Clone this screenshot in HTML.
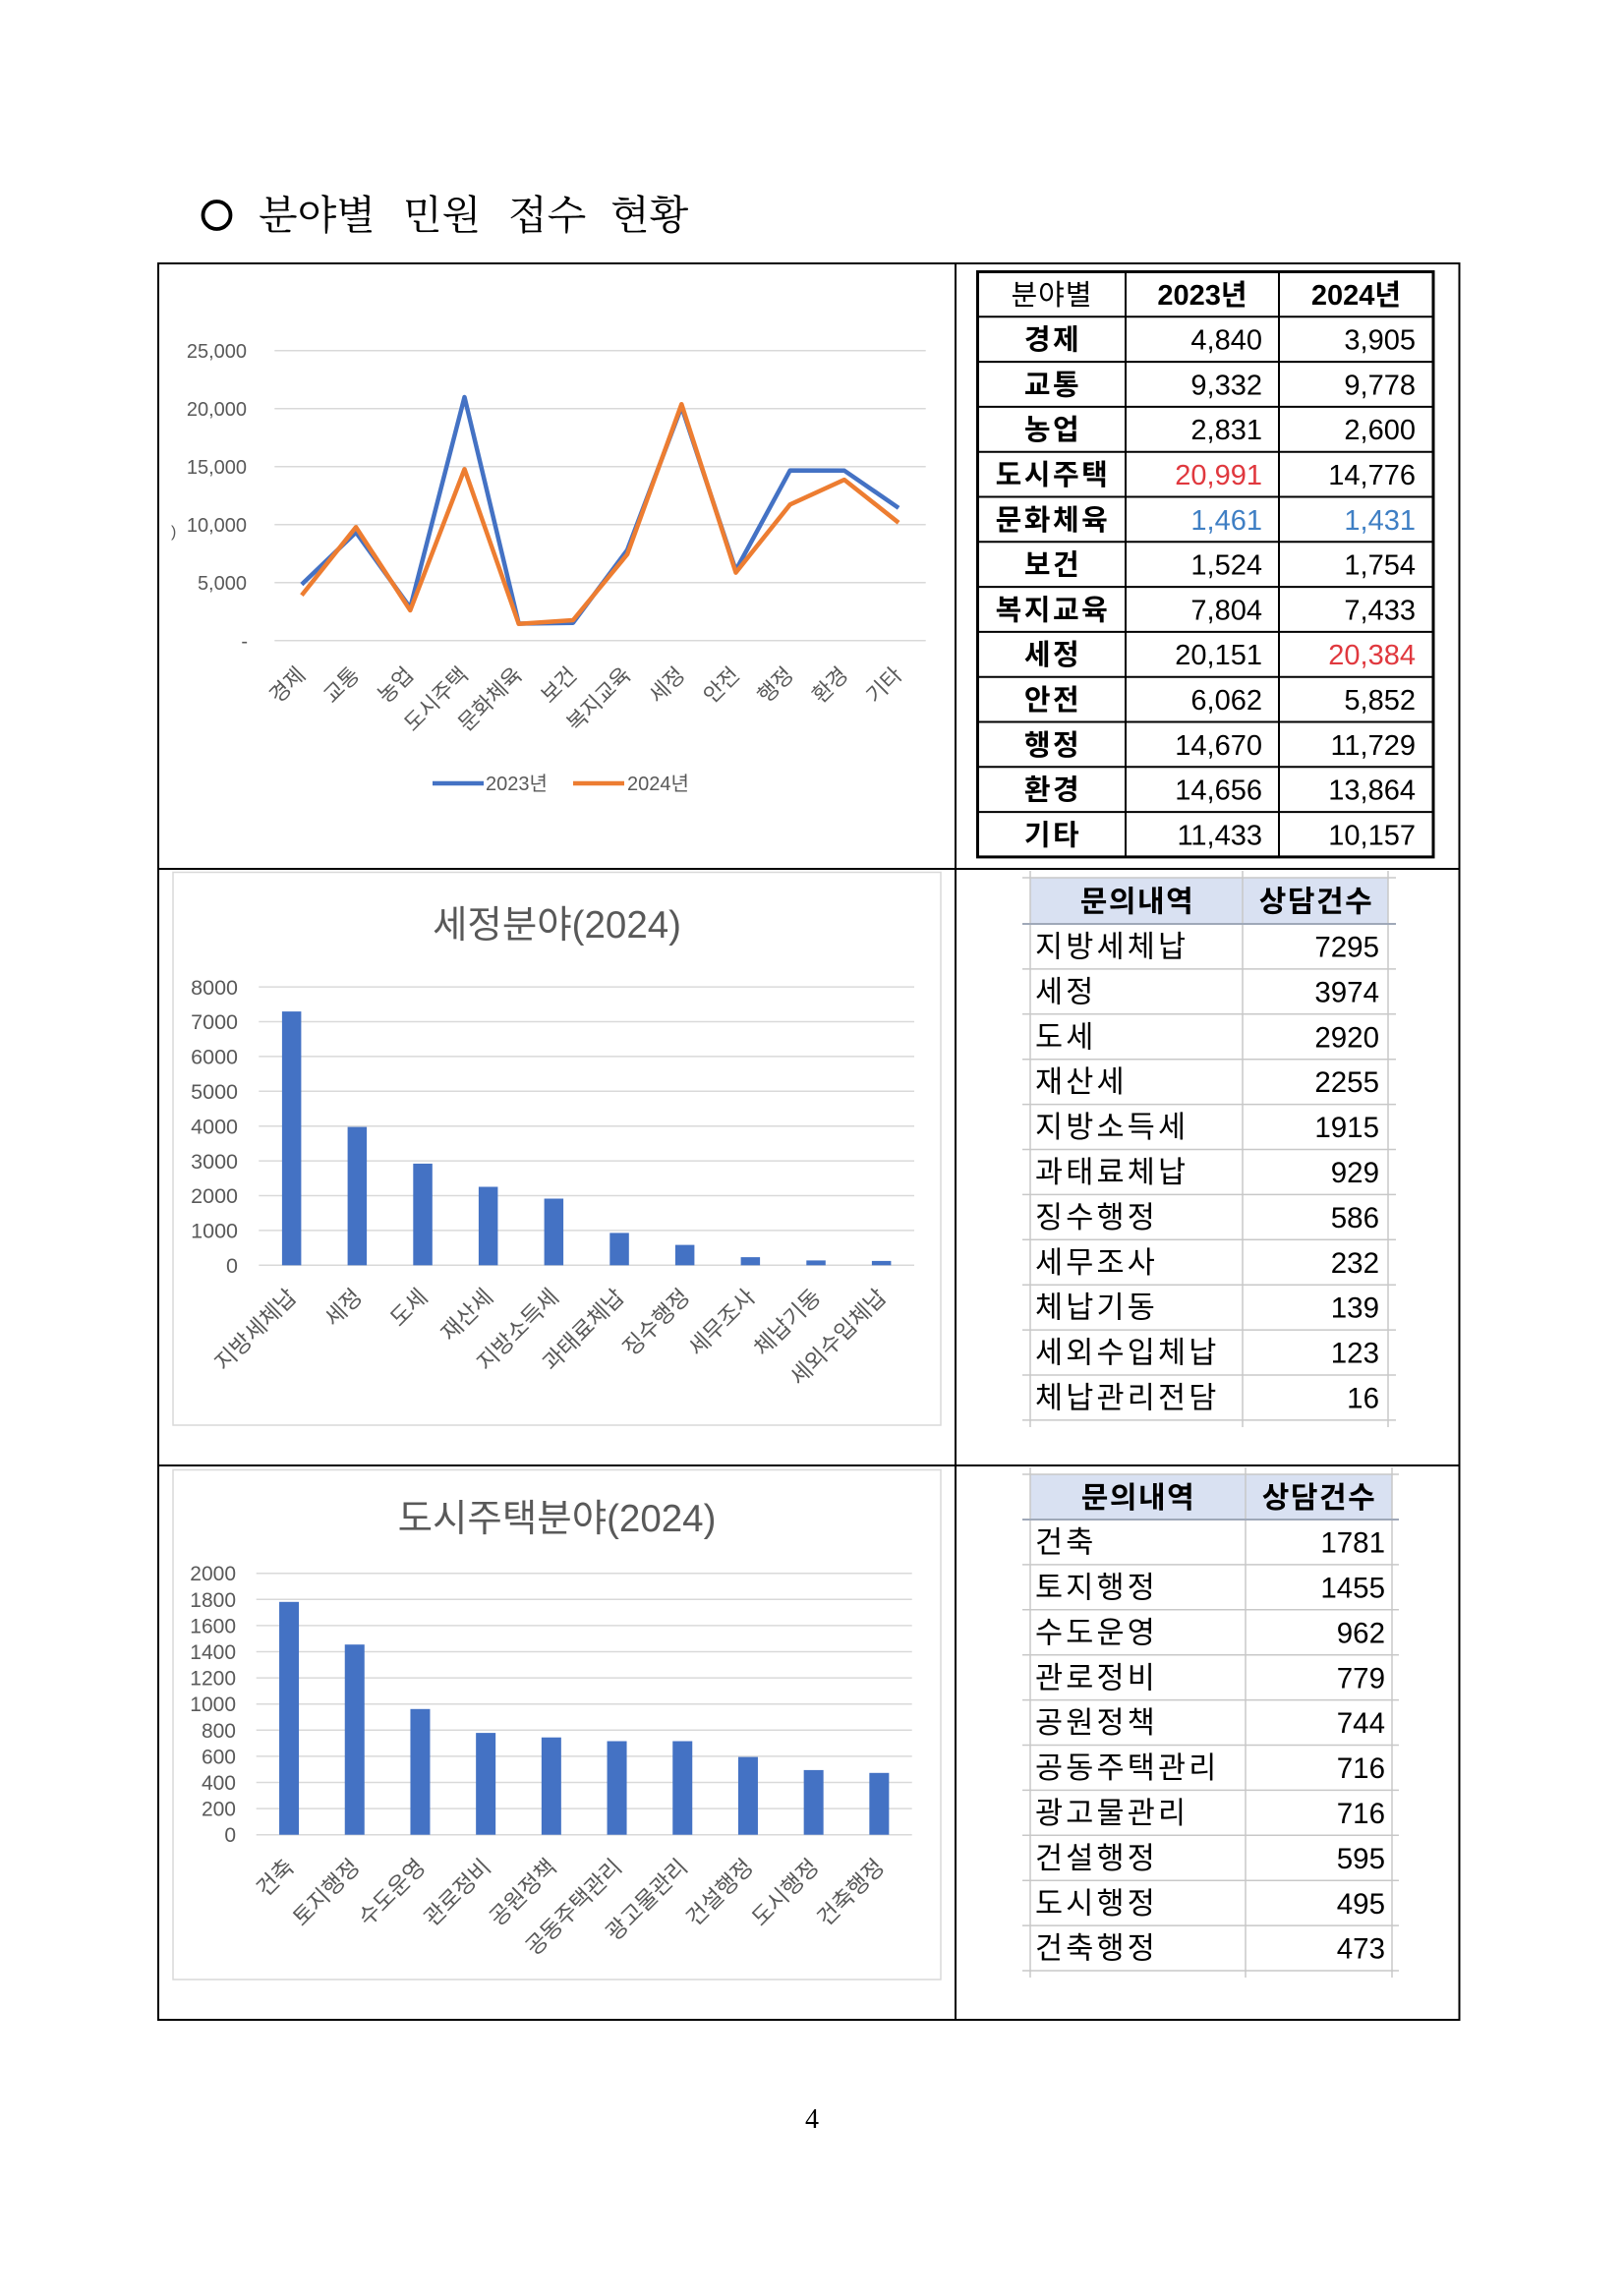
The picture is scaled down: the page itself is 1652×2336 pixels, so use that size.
<!DOCTYPE html>
<html lang="ko">
<head>
<meta charset="utf-8">
<style>
html,body{margin:0;padding:0;background:#fff;}
svg{display:block;}
.sans{font-family:"Liberation Sans","Noto Sans CJK KR",sans-serif;}
.serif{font-family:"Liberation Serif","Noto Serif CJK SC",serif;}
.ax{fill:#595959;}
</style>
</head>
<body>
<svg width="1652" height="2336" viewBox="0 0 1652 2336" xmlns="http://www.w3.org/2000/svg">
<rect x="0" y="0" width="1652" height="2336" fill="#fff"/>

<!-- Title -->
<circle cx="220.5" cy="219" r="14" fill="none" stroke="#000" stroke-width="3.8"/>
<g class="serif" font-size="41" fill="#000">
<text x="263" y="233">분야별</text>
<text x="410" y="233">민원</text>
<text x="517" y="233">접수</text>
<text x="621" y="233">현황</text>
</g>

<!-- Outer grid box -->
<g stroke="#000" stroke-width="2" fill="none">
<rect x="161" y="268" width="1323.5" height="1787"/>
<line x1="972" y1="268" x2="972" y2="2055"/>
<line x1="161" y1="884" x2="1484.5" y2="884"/>
<line x1="161" y1="1491" x2="1484.5" y2="1491"/>
</g>

<!-- ============ CHART 1 (line) ============ -->
<g stroke="#D9D9D9" stroke-width="1.5">
<line x1="279.3" y1="356.7" x2="941.7" y2="356.7"/>
<line x1="279.3" y1="415.7" x2="941.7" y2="415.7"/>
<line x1="279.3" y1="474.7" x2="941.7" y2="474.7"/>
<line x1="279.3" y1="533.7" x2="941.7" y2="533.7"/>
<line x1="279.3" y1="592.7" x2="941.7" y2="592.7"/>
<line x1="279.3" y1="651.7" x2="941.7" y2="651.7"/>
</g>
<g class="sans ax" font-size="20" text-anchor="end">
<text x="251" y="363.9">25,000</text>
<text x="251" y="422.9">20,000</text>
<text x="251" y="481.9">15,000</text>
<text x="251" y="540.9">10,000</text>
<text x="251" y="599.9">5,000</text>
<text x="252" y="658.9">-</text>
</g>
<text class="sans ax" x="174" y="546" font-size="16">)</text>

<polyline fill="none" stroke="#4472C4" stroke-width="4.5" stroke-linejoin="round"
 points="306.9,594.6 362.1,541.6 417.3,618.3 472.5,404.0 527.7,634.5 582.9,633.7 638.1,559.6 693.3,413.9 748.5,580.2 803.7,478.6 858.9,478.8 914.1,516.8"/>
<polyline fill="none" stroke="#ED7D31" stroke-width="4.5" stroke-linejoin="round"
 points="306.9,605.6 362.1,536.3 417.3,621.0 472.5,477.3 527.7,634.8 582.9,631.0 638.1,564.0 693.3,411.2 748.5,582.6 803.7,513.3 858.9,488.1 914.1,531.8"/>

<g class="sans ax" font-size="22" text-anchor="end">
<text transform="translate(312,688) rotate(-45)">경제</text>
<text transform="translate(367,688) rotate(-45)">교통</text>
<text transform="translate(422,688) rotate(-45)">농업</text>
<text transform="translate(477.5,688) rotate(-45)">도시주택</text>
<text transform="translate(532.5,688) rotate(-45)">문화체육</text>
<text transform="translate(588,688) rotate(-45)">보건</text>
<text transform="translate(643,688) rotate(-45)">복지교육</text>
<text transform="translate(698,688) rotate(-45)">세정</text>
<text transform="translate(753.5,688) rotate(-45)">안전</text>
<text transform="translate(808.5,688) rotate(-45)">행정</text>
<text transform="translate(864,688) rotate(-45)">환경</text>
<text transform="translate(919,688) rotate(-45)">기타</text>
</g>

<!-- legend -->
<line x1="440" y1="797" x2="492" y2="797" stroke="#4472C4" stroke-width="4.5"/>
<text class="sans ax" x="494" y="804" font-size="20">2023년</text>
<line x1="583" y1="797" x2="635" y2="797" stroke="#ED7D31" stroke-width="4.5"/>
<text class="sans ax" x="638" y="804" font-size="20">2024년</text>

<!-- ============ TABLE 1 ============ -->
<g stroke="#000" fill="none">
<g stroke-width="2">
<line x1="994.5" y1="322.3" x2="1458" y2="322.3"/>
<line x1="994.5" y1="368.1" x2="1458" y2="368.1"/>
<line x1="994.5" y1="413.9" x2="1458" y2="413.9"/>
<line x1="994.5" y1="459.7" x2="1458" y2="459.7"/>
<line x1="994.5" y1="505.5" x2="1458" y2="505.5"/>
<line x1="994.5" y1="551.3" x2="1458" y2="551.3"/>
<line x1="994.5" y1="597.1" x2="1458" y2="597.1"/>
<line x1="994.5" y1="642.9" x2="1458" y2="642.9"/>
<line x1="994.5" y1="688.7" x2="1458" y2="688.7"/>
<line x1="994.5" y1="734.5" x2="1458" y2="734.5"/>
<line x1="994.5" y1="780.3" x2="1458" y2="780.3"/>
<line x1="994.5" y1="826.1" x2="1458" y2="826.1"/>
<line x1="1145" y1="276.5" x2="1145" y2="871.9"/>
<line x1="1301" y1="276.5" x2="1301" y2="871.9"/>
</g>
<rect x="994.5" y="276.5" width="463.5" height="595.4" stroke-width="3"/>
</g>
<g class="sans" font-size="29" fill="#000">
<g text-anchor="middle">
<text x="1070" y="309.8" letter-spacing="1">분야별</text>
<text x="1223" y="309.8" font-weight="bold">2023년</text>
<text x="1379.5" y="309.8" font-weight="bold">2024년</text>
</g>
<g text-anchor="middle" font-weight="bold" letter-spacing="2.5">
<text x="1071" y="355.6">경제</text>
<text x="1071" y="401.4">교통</text>
<text x="1071" y="447.2">농업</text>
<text x="1071" y="493.0">도시주택</text>
<text x="1071" y="538.8">문화체육</text>
<text x="1071" y="584.6">보건</text>
<text x="1071" y="630.4">복지교육</text>
<text x="1071" y="676.2">세정</text>
<text x="1071" y="722.0">안전</text>
<text x="1071" y="767.8">행정</text>
<text x="1071" y="813.6">환경</text>
<text x="1071" y="859.4">기타</text>
</g>
<g text-anchor="end">
<text x="1284" y="355.6">4,840</text>
<text x="1284" y="401.4">9,332</text>
<text x="1284" y="447.2">2,831</text>
<text x="1284" y="493.0" fill="#E0383E">20,991</text>
<text x="1284" y="538.8" fill="#3F7FC4">1,461</text>
<text x="1284" y="584.6">1,524</text>
<text x="1284" y="630.4">7,804</text>
<text x="1284" y="676.2">20,151</text>
<text x="1284" y="722.0">6,062</text>
<text x="1284" y="767.8">14,670</text>
<text x="1284" y="813.6">14,656</text>
<text x="1284" y="859.4">11,433</text>
<text x="1440" y="355.6">3,905</text>
<text x="1440" y="401.4">9,778</text>
<text x="1440" y="447.2">2,600</text>
<text x="1440" y="493.0">14,776</text>
<text x="1440" y="538.8" fill="#3F7FC4">1,431</text>
<text x="1440" y="584.6">1,754</text>
<text x="1440" y="630.4">7,433</text>
<text x="1440" y="676.2" fill="#E0383E">20,384</text>
<text x="1440" y="722.0">5,852</text>
<text x="1440" y="767.8">11,729</text>
<text x="1440" y="813.6">13,864</text>
<text x="1440" y="859.4">10,157</text>
</g>
</g>

<!-- ============ CHART 2 (bar) ============ -->
<rect x="176" y="887.5" width="781" height="562.5" fill="#fff" stroke="#D9D9D9" stroke-width="1.5"/>
<text class="sans ax" x="566.5" y="954" font-size="38.5" text-anchor="middle">세정분야(2024)</text>
<g stroke="#D9D9D9" stroke-width="1.5">
<line x1="263.3" y1="1004.1" x2="930" y2="1004.1"/>
<line x1="263.3" y1="1039.5" x2="930" y2="1039.5"/>
<line x1="263.3" y1="1074.9" x2="930" y2="1074.9"/>
<line x1="263.3" y1="1110.3" x2="930" y2="1110.3"/>
<line x1="263.3" y1="1145.7" x2="930" y2="1145.7"/>
<line x1="263.3" y1="1181.1" x2="930" y2="1181.1"/>
<line x1="263.3" y1="1216.5" x2="930" y2="1216.5"/>
<line x1="263.3" y1="1251.9" x2="930" y2="1251.9"/>
<line x1="263.3" y1="1287.3" x2="930" y2="1287.3"/>
</g>
<g class="sans ax" font-size="21.5" text-anchor="end">
<text x="242" y="1011.8">8000</text>
<text x="242" y="1047.2">7000</text>
<text x="242" y="1082.6">6000</text>
<text x="242" y="1118.0">5000</text>
<text x="242" y="1153.4">4000</text>
<text x="242" y="1188.8">3000</text>
<text x="242" y="1224.2">2000</text>
<text x="242" y="1259.6">1000</text>
<text x="242" y="1295.0">0</text>
</g>
<g fill="#4472C4">
<rect x="286.9" y="1029.1" width="19.5" height="258.2"/>
<rect x="353.6" y="1146.6" width="19.5" height="140.7"/>
<rect x="420.3" y="1183.9" width="19.5" height="103.4"/>
<rect x="486.9" y="1207.5" width="19.5" height="79.8"/>
<rect x="553.6" y="1219.5" width="19.5" height="67.8"/>
<rect x="620.3" y="1254.4" width="19.5" height="32.9"/>
<rect x="686.9" y="1266.6" width="19.5" height="20.7"/>
<rect x="753.6" y="1279.1" width="19.5" height="8.2"/>
<rect x="820.3" y="1282.4" width="19.5" height="4.9"/>
<rect x="886.9" y="1282.9" width="19.5" height="4.4"/>
</g>
<g class="sans ax" font-size="23" text-anchor="end">
<text transform="translate(303,1321) rotate(-45)">지방세체납</text>
<text transform="translate(369.7,1321) rotate(-45)">세정</text>
<text transform="translate(436.4,1321) rotate(-45)">도세</text>
<text transform="translate(503,1321) rotate(-45)">재산세</text>
<text transform="translate(569.7,1321) rotate(-45)">지방소득세</text>
<text transform="translate(636.4,1321) rotate(-45)">과태료체납</text>
<text transform="translate(703,1321) rotate(-45)">징수행정</text>
<text transform="translate(769.7,1321) rotate(-45)">세무조사</text>
<text transform="translate(836.4,1321) rotate(-45)">체납기동</text>
<text transform="translate(903,1321) rotate(-45)">세외수입체납</text>
</g>

<!-- ============ TABLE 2 ============ -->
<rect x="1048" y="893" width="364" height="47" fill="#D9E1F2"/>
<g stroke="#C8C8C8" stroke-width="1.5">
<line x1="1048" y1="886" x2="1048" y2="1452"/>
<line x1="1264" y1="886" x2="1264" y2="1452"/>
<line x1="1412" y1="886" x2="1412" y2="1452"/>
<line x1="1040" y1="893" x2="1420" y2="893"/>
<line x1="1040" y1="985.9" x2="1420" y2="985.9"/>
<line x1="1040" y1="1031.8" x2="1420" y2="1031.8"/>
<line x1="1040" y1="1077.7" x2="1420" y2="1077.7"/>
<line x1="1040" y1="1123.6" x2="1420" y2="1123.6"/>
<line x1="1040" y1="1169.5" x2="1420" y2="1169.5"/>
<line x1="1040" y1="1215.4" x2="1420" y2="1215.4"/>
<line x1="1040" y1="1261.3" x2="1420" y2="1261.3"/>
<line x1="1040" y1="1307.2" x2="1420" y2="1307.2"/>
<line x1="1040" y1="1353.1" x2="1420" y2="1353.1"/>
<line x1="1040" y1="1399" x2="1420" y2="1399"/>
<line x1="1040" y1="1444.9" x2="1420" y2="1444.9"/>
</g>
<line x1="1040" y1="940" x2="1420" y2="940" stroke="#9FA8B8" stroke-width="2"/>
<g class="sans" fill="#000">
<g font-size="30" font-weight="bold" text-anchor="middle" letter-spacing="1.5">
<text x="1157" y="927.3">문의내역</text>
<text x="1339" y="927.3">상담건수</text>
</g>
<g font-size="30.5" letter-spacing="3.2">
<text x="1053" y="973.5">지방세체납</text>
<text x="1053" y="1019.4">세정</text>
<text x="1053" y="1065.3">도세</text>
<text x="1053" y="1111.2">재산세</text>
<text x="1053" y="1157.1">지방소득세</text>
<text x="1053" y="1203.0">과태료체납</text>
<text x="1053" y="1248.9">징수행정</text>
<text x="1053" y="1294.8">세무조사</text>
<text x="1053" y="1340.7">체납기동</text>
<text x="1053" y="1386.6">세외수입체납</text>
<text x="1053" y="1432.5">체납관리전담</text>
</g>
<g font-size="29.5" text-anchor="end">
<text x="1403" y="973.5">7295</text>
<text x="1403" y="1019.4">3974</text>
<text x="1403" y="1065.3">2920</text>
<text x="1403" y="1111.2">2255</text>
<text x="1403" y="1157.1">1915</text>
<text x="1403" y="1203.0">929</text>
<text x="1403" y="1248.9">586</text>
<text x="1403" y="1294.8">232</text>
<text x="1403" y="1340.7">139</text>
<text x="1403" y="1386.6">123</text>
<text x="1403" y="1432.5">16</text>
</g>
</g>

<!-- ============ CHART 3 (bar) ============ -->
<rect x="176" y="1495.5" width="781" height="518.5" fill="#fff" stroke="#D9D9D9" stroke-width="1.5"/>
<text class="sans ax" x="566.5" y="1558" font-size="38.5" text-anchor="middle">도시주택분야(2024)</text>
<g stroke="#D9D9D9" stroke-width="1.5">
<line x1="260.7" y1="1600.7" x2="927.7" y2="1600.7"/>
<line x1="260.7" y1="1627.3" x2="927.7" y2="1627.3"/>
<line x1="260.7" y1="1653.9" x2="927.7" y2="1653.9"/>
<line x1="260.7" y1="1680.5" x2="927.7" y2="1680.5"/>
<line x1="260.7" y1="1707.1" x2="927.7" y2="1707.1"/>
<line x1="260.7" y1="1733.7" x2="927.7" y2="1733.7"/>
<line x1="260.7" y1="1760.3" x2="927.7" y2="1760.3"/>
<line x1="260.7" y1="1786.9" x2="927.7" y2="1786.9"/>
<line x1="260.7" y1="1813.5" x2="927.7" y2="1813.5"/>
<line x1="260.7" y1="1840.1" x2="927.7" y2="1840.1"/>
<line x1="260.7" y1="1866.7" x2="927.7" y2="1866.7"/>
</g>
<g class="sans ax" font-size="21" text-anchor="end">
<text x="240" y="1608.2">2000</text>
<text x="240" y="1634.8">1800</text>
<text x="240" y="1661.4">1600</text>
<text x="240" y="1688.0">1400</text>
<text x="240" y="1714.6">1200</text>
<text x="240" y="1741.2">1000</text>
<text x="240" y="1767.8">800</text>
<text x="240" y="1794.4">600</text>
<text x="240" y="1821.0">400</text>
<text x="240" y="1847.6">200</text>
<text x="240" y="1874.2">0</text>
</g>
<g fill="#4472C4">
<rect x="284.05" y="1629.8" width="20" height="236.9"/>
<rect x="350.75" y="1673.2" width="20" height="193.5"/>
<rect x="417.45" y="1738.8" width="20" height="127.9"/>
<rect x="484.15" y="1763.1" width="20" height="103.6"/>
<rect x="550.85" y="1767.7" width="20" height="99.0"/>
<rect x="617.55" y="1771.5" width="20" height="95.2"/>
<rect x="684.25" y="1771.5" width="20" height="95.2"/>
<rect x="750.95" y="1787.6" width="20" height="79.1"/>
<rect x="817.65" y="1800.9" width="20" height="65.8"/>
<rect x="884.35" y="1803.8" width="20" height="62.9"/>
</g>
<g class="sans ax" font-size="23" text-anchor="end">
<text transform="translate(300.5,1901) rotate(-45)">건축</text>
<text transform="translate(367.2,1901) rotate(-45)">토지행정</text>
<text transform="translate(434,1901) rotate(-45)">수도운영</text>
<text transform="translate(500.7,1901) rotate(-45)">관로정비</text>
<text transform="translate(567.4,1901) rotate(-45)">공원정책</text>
<text transform="translate(634,1901) rotate(-45)">공동주택관리</text>
<text transform="translate(700.8,1901) rotate(-45)">광고물관리</text>
<text transform="translate(767.5,1901) rotate(-45)">건설행정</text>
<text transform="translate(834.2,1901) rotate(-45)">도시행정</text>
<text transform="translate(900.9,1901) rotate(-45)">건축행정</text>
</g>

<!-- ============ TABLE 3 ============ -->
<rect x="1048" y="1500" width="368" height="46" fill="#D9E1F2"/>
<g stroke="#C8C8C8" stroke-width="1.5">
<line x1="1048" y1="1493" x2="1048" y2="2012"/>
<line x1="1267" y1="1493" x2="1267" y2="2012"/>
<line x1="1416" y1="1493" x2="1416" y2="2012"/>
<line x1="1040" y1="1500" x2="1423" y2="1500"/>
<line x1="1040" y1="1591.9" x2="1423" y2="1591.9"/>
<line x1="1040" y1="1637.8" x2="1423" y2="1637.8"/>
<line x1="1040" y1="1683.7" x2="1423" y2="1683.7"/>
<line x1="1040" y1="1729.6" x2="1423" y2="1729.6"/>
<line x1="1040" y1="1775.5" x2="1423" y2="1775.5"/>
<line x1="1040" y1="1821.4" x2="1423" y2="1821.4"/>
<line x1="1040" y1="1867.3" x2="1423" y2="1867.3"/>
<line x1="1040" y1="1913.2" x2="1423" y2="1913.2"/>
<line x1="1040" y1="1959.1" x2="1423" y2="1959.1"/>
<line x1="1040" y1="2005" x2="1423" y2="2005"/>
</g>
<line x1="1040" y1="1546" x2="1423" y2="1546" stroke="#9FA8B8" stroke-width="2"/>
<g class="sans" fill="#000">
<g font-size="30" font-weight="bold" text-anchor="middle" letter-spacing="1.5">
<text x="1158" y="1533.8">문의내역</text>
<text x="1342" y="1533.8">상담건수</text>
</g>
<g font-size="30.5" letter-spacing="3.2">
<text x="1053" y="1579.6">건축</text>
<text x="1053" y="1625.5">토지행정</text>
<text x="1053" y="1671.4">수도운영</text>
<text x="1053" y="1717.3">관로정비</text>
<text x="1053" y="1763.2">공원정책</text>
<text x="1053" y="1809.1">공동주택관리</text>
<text x="1053" y="1855.0">광고물관리</text>
<text x="1053" y="1900.9">건설행정</text>
<text x="1053" y="1946.8">도시행정</text>
<text x="1053" y="1992.7">건축행정</text>
</g>
<g font-size="29.5" text-anchor="end">
<text x="1409" y="1579.6">1781</text>
<text x="1409" y="1625.5">1455</text>
<text x="1409" y="1671.4">962</text>
<text x="1409" y="1717.3">779</text>
<text x="1409" y="1763.2">744</text>
<text x="1409" y="1809.1">716</text>
<text x="1409" y="1855.0">716</text>
<text x="1409" y="1900.9">595</text>
<text x="1409" y="1946.8">495</text>
<text x="1409" y="1992.7">473</text>
</g>
</g>

<!-- page number -->
<text class="serif" x="826" y="2165" font-size="28" text-anchor="middle" fill="#000">4</text>
</svg>
</body>
</html>
